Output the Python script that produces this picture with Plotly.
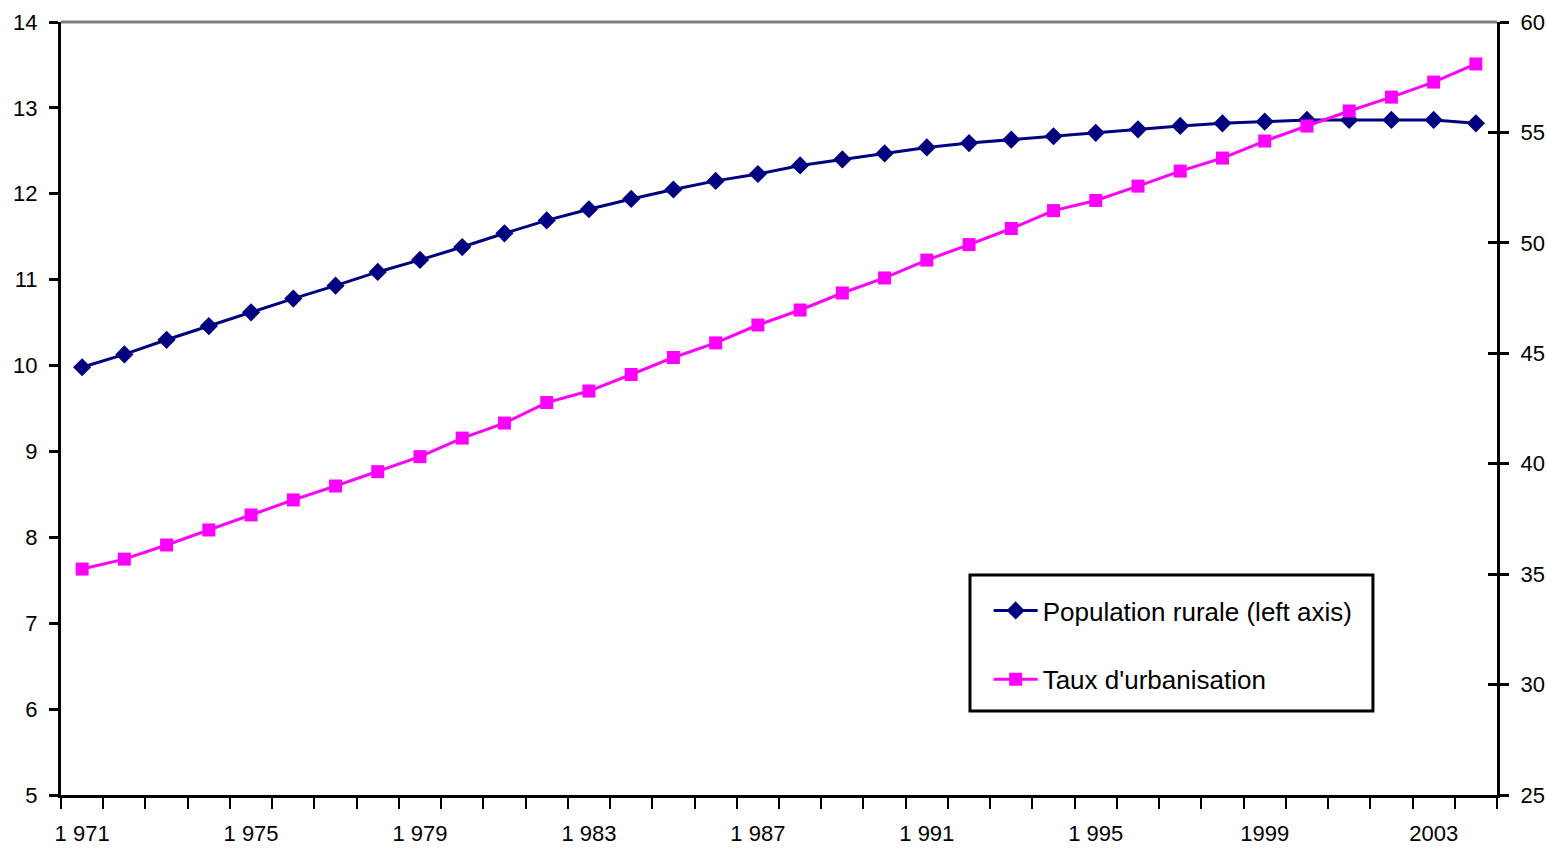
import plotly.graph_objects as go

years = list(range(1971, 2005))
population_rurale = [9.98, 10.13, 10.30, 10.46, 10.62, 10.78, 10.93, 11.09, 11.23, 11.38,
                     11.54, 11.69, 11.82, 11.94, 12.05, 12.15, 12.23, 12.33, 12.40, 12.47,
                     12.54, 12.59, 12.63, 12.67, 12.71, 12.75, 12.79, 12.82, 12.84, 12.86,
                     12.86, 12.86, 12.86, 12.82]
taux_urbanisation = [35.23, 35.68, 36.32, 37.00, 37.68, 38.36, 38.99, 39.64, 40.32, 41.16,
                     41.84, 42.77, 43.29, 44.04, 44.81, 45.47, 46.28, 46.96, 47.73, 48.41,
                     49.22, 49.92, 50.65, 51.46, 51.92, 52.57, 53.25, 53.84, 54.61, 55.29,
                     55.97, 56.60, 57.28, 58.10]
label_years = [1971, 1975, 1979, 1983, 1987, 1991, 1995, 1999, 2003]
label_text = ["1 971", "1 975", "1 979", "1 983", "1 987", "1 991", "1 995", "1999", "2003"]
left_ticks = [5, 6, 7, 8, 9, 10, 11, 12, 13, 14]
right_ticks = [25, 30, 35, 40, 45, 50, 55, 60]

FONT = "Liberation Sans, Arial, sans-serif"
boundaries = [y - 0.5 for y in years] + [years[-1] + 0.5]

fig = go.Figure()
fig.add_trace(go.Scatter(
    x=years, y=population_rurale, name="Population rurale (left axis)",
    mode="lines+markers", line=dict(color="#000080", width=3),
    marker=dict(symbol="diamond", size=14, color="#000080"),
    legendgroup="a", yaxis="y"))
fig.add_trace(go.Scatter(
    x=years, y=taux_urbanisation, name="Taux d'urbanisation",
    mode="lines+markers", line=dict(color="#FF00FF", width=3),
    marker=dict(symbol="square", size=13, color="#FF00FF"),
    legendgroup="b", yaxis="y2"))

fig.update_layout(
    width=1547, height=849,
    margin=dict(l=61, r=50, t=22, b=54),
    paper_bgcolor="white", plot_bgcolor="white",
    font=dict(family=FONT, size=22, color="black"),
    showlegend=True,
    legend=dict(x=0.646, y=0.269, xanchor="left", yanchor="top",
                bgcolor="rgba(0,0,0,0)", borderwidth=0, itemwidth=44,
                font=dict(family=FONT, size=26, color="black"),
                tracegroupgap=32, traceorder="grouped"),
    xaxis=dict(range=[years[0] - 0.5, years[-1] + 0.5], automargin=False,
               tickmode="array", tickvals=label_years, ticktext=label_text,
               ticks="outside", ticklen=0, ticklabelstandoff=17,
               showline=True, linecolor="black", linewidth=3,
               showgrid=False, zeroline=False,
               minor=dict(tickmode="array", tickvals=boundaries, ticks="outside",
                          ticklen=11, tickwidth=2, tickcolor="black", showgrid=False)),
    yaxis=dict(range=[5, 14], tickmode="array", tickvals=left_ticks, automargin=False,
               ticks="outside", ticklen=9, tickwidth=3, tickcolor="black",
               showline=True, linecolor="black", linewidth=3,
               showgrid=False, zeroline=False, ticklabelstandoff=7),
    yaxis2=dict(range=[25, 60], tickmode="array", tickvals=right_ticks, automargin=False,
                overlaying="y", side="right",
                ticks="outside", ticklen=9, tickwidth=3, tickcolor="black",
                showline=True, linecolor="black", linewidth=3,
                showgrid=False, zeroline=False, ticklabelstandoff=7),
    yaxis3=dict(range=[25, 60], tickmode="array", tickvals=right_ticks, automargin=False,
                overlaying="y", side="right", showticklabels=False,
                ticks="inside", ticklen=9, tickwidth=3, tickcolor="black",
                showline=False, showgrid=False, zeroline=False),
    shapes=[
        dict(type="line", xref="paper", yref="paper", x0=0, x1=1, y0=1, y1=1,
             line=dict(color="#808080", width=3)),
        dict(type="rect", xref="paper", yref="paper", x0=0.633, x1=0.9136,
             y0=0.1087, y1=0.2846, line=dict(color="black", width=3),
             fillcolor="rgba(0,0,0,0)"),
    ],
)
# invisible helper trace so that yaxis3 (inner right ticks) is rendered
fig.add_trace(go.Scatter(x=[years[0]], y=[right_ticks[0]], yaxis="y3",
                         mode="markers", marker=dict(opacity=0),
                         showlegend=False, hoverinfo="skip"))

fig.write_html("out.html")
